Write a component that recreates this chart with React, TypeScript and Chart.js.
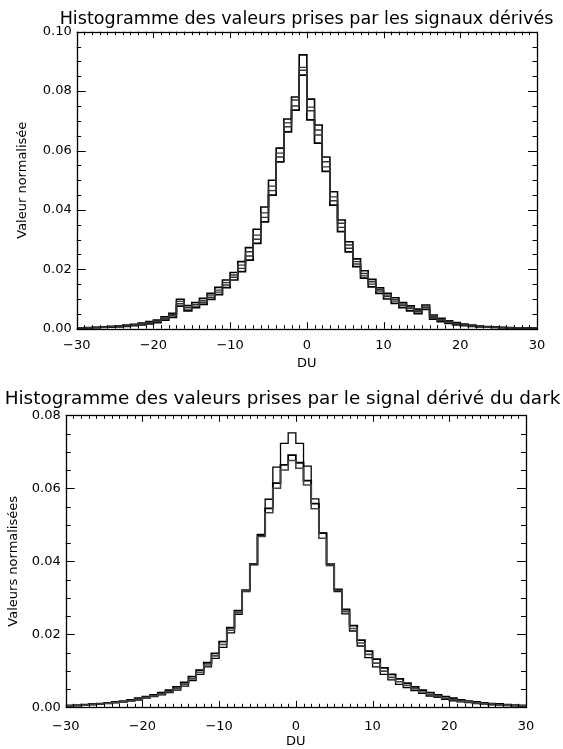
import React, { useEffect, useRef } from 'react';
import { Chart, registerables } from 'chart.js';

Chart.register(...registerables);

// Bin edges (DU), each bin is [edge, next edge)
const binEdges = [
  -30, -29, -28, -27, -26, -25, -24, -23, -22, -21,
  -20, -19, -18, -17, -16, -15, -14, -13, -12, -11,
  -10, -9, -8, -7, -6, -5, -4, -3, -2, -1,
  0, 1, 2, 3, 4, 5, 6, 7, 8, 9,
  10, 11, 12, 13, 14, 15, 16, 17, 18, 19,
  20, 21, 22, 23, 24, 25, 26, 27, 28, 29, 30,
];

const xTickLabels = [-30, -20, -10, 0, 10, 20, 30];
const topYTickLabels = [0, 0.02, 0.04, 0.06, 0.08, 0.1];
const bottomYTickLabels = [0, 0.02, 0.04, 0.06, 0.08];

// Top chart: histograms of the derived signals
const signal1 = [
  0.0003, 0.0004, 0.0005, 0.0006, 0.0008, 0.001, 0.0012, 0.0015, 0.0019, 0.0024,
  0.0029, 0.004, 0.0052, 0.0099, 0.0078, 0.0088, 0.0102, 0.0119, 0.0139, 0.0164,
  0.0189, 0.0226, 0.0273, 0.0335, 0.041, 0.05, 0.0608, 0.0706, 0.078, 0.0922,
  0.0773, 0.0686, 0.0578, 0.0461, 0.0366, 0.0293, 0.0235, 0.0195, 0.0166, 0.0138,
  0.0119, 0.0104, 0.0088, 0.0077, 0.0066, 0.008, 0.0046, 0.0035, 0.0027, 0.0021,
  0.0016, 0.0012, 0.0009, 0.0007, 0.0006, 0.0005, 0.0004, 0.0003, 0.0002, 0.0002,
];
const signal2 = [
  0.0002, 0.0003, 0.0004, 0.0005, 0.0007, 0.0009, 0.0011, 0.0013, 0.0017, 0.0021,
  0.0026, 0.0036, 0.0048, 0.0092, 0.0072, 0.0082, 0.0094, 0.0113, 0.013, 0.0155,
  0.0181, 0.0214, 0.0259, 0.0315, 0.039, 0.048, 0.0591, 0.0693, 0.077, 0.088,
  0.0746, 0.0669, 0.0562, 0.0444, 0.0355, 0.0282, 0.0226, 0.0186, 0.0158, 0.0133,
  0.0113, 0.0098, 0.0083, 0.0073, 0.0062, 0.0076, 0.0042, 0.0031, 0.0024, 0.0018,
  0.0014, 0.0011, 0.0008, 0.0006, 0.0005, 0.0004, 0.0003, 0.0003, 0.0002, 0.0002,
];
const signal3 = [
  0.0002, 0.0003, 0.0004, 0.0005, 0.0006, 0.0008, 0.001, 0.0012, 0.0015, 0.0019,
  0.0023, 0.0033, 0.0044, 0.0084, 0.0066, 0.0076, 0.0088, 0.0106, 0.0123, 0.0147,
  0.0173, 0.0203, 0.0245, 0.0301, 0.0375, 0.0465, 0.0578, 0.068, 0.075, 0.087,
  0.0734, 0.0652, 0.0545, 0.0431, 0.0341, 0.0271, 0.0218, 0.0178, 0.015, 0.0127,
  0.0108, 0.0093, 0.0078, 0.0068, 0.0057, 0.0071, 0.0037, 0.0028, 0.0021, 0.0016,
  0.0012, 0.0009, 0.0007, 0.0005, 0.0004, 0.0003, 0.0003, 0.0002, 0.0002, 0.0001,
];
const signal4 = [
  0.0001, 0.0002, 0.0003, 0.0004, 0.0005, 0.0006, 0.0008, 0.001, 0.0013, 0.0016,
  0.002, 0.0029, 0.0038, 0.0076, 0.006, 0.0071, 0.0082, 0.0099, 0.0115, 0.0138,
  0.0164, 0.0192, 0.0231, 0.0287, 0.036, 0.045, 0.0562, 0.0663, 0.0736, 0.0854,
  0.0703, 0.0625, 0.053, 0.0416, 0.0327, 0.0259, 0.0209, 0.017, 0.0141, 0.0119,
  0.01, 0.0085, 0.0071, 0.006, 0.0051, 0.0065, 0.0032, 0.0024, 0.0018, 0.0013,
  0.001, 0.0008, 0.0006, 0.0005, 0.0004, 0.0003, 0.0002, 0.0002, 0.0001, 0.0001,
];

// Bottom chart: histograms of the derived dark signal
const darkA = [
  0.0005, 0.0006, 0.0007, 0.0009, 0.001, 0.0012, 0.0015, 0.0017, 0.002, 0.0025,
  0.0029, 0.0034, 0.004, 0.0047, 0.0056, 0.0068, 0.0084, 0.0102, 0.0122, 0.0148,
  0.018, 0.0218, 0.0265, 0.0321, 0.0392, 0.0472, 0.0545, 0.0614, 0.0664, 0.0691,
  0.067, 0.0621, 0.0558, 0.0477, 0.0392, 0.0323, 0.0268, 0.0224, 0.0184, 0.0154,
  0.0132, 0.0108, 0.009, 0.0078, 0.0066, 0.0056, 0.0047, 0.004, 0.0034, 0.0029,
  0.0025, 0.002, 0.0017, 0.0015, 0.0012, 0.001, 0.0009, 0.0007, 0.0006, 0.0005,
];
const darkG = [
  0.0004, 0.0005, 0.0006, 0.0008, 0.0009, 0.0011, 0.0013, 0.0015, 0.0018, 0.0022,
  0.0027, 0.0031, 0.0037, 0.0043, 0.0051, 0.0063, 0.0078, 0.0096, 0.0116, 0.0141,
  0.0172, 0.0211, 0.026, 0.0319, 0.039, 0.0468, 0.0533, 0.06, 0.065, 0.0676,
  0.0655, 0.0609, 0.0544, 0.0463, 0.039, 0.032, 0.0262, 0.0216, 0.0176, 0.0145,
  0.0121, 0.0099, 0.0082, 0.007, 0.006, 0.0051, 0.0042, 0.0035, 0.003, 0.0025,
  0.0021, 0.0017, 0.0015, 0.0012, 0.001, 0.0009, 0.0007, 0.0006, 0.0005, 0.0004,
];
const darkT = [
  0.0003, 0.0004, 0.0006, 0.0007, 0.0008, 0.001, 0.0012, 0.0014, 0.0017, 0.002,
  0.0025, 0.0029, 0.0034, 0.004, 0.0047, 0.0058, 0.0073, 0.009, 0.0111, 0.0134,
  0.0164, 0.0204, 0.0255, 0.0317, 0.0392, 0.0474, 0.057, 0.0658, 0.0723, 0.0752,
  0.0723, 0.0661, 0.0571, 0.0477, 0.0388, 0.0317, 0.0256, 0.0209, 0.0168, 0.0136,
  0.0111, 0.009, 0.0075, 0.0063, 0.0054, 0.0046, 0.0038, 0.0031, 0.0027, 0.0022,
  0.0018, 0.0015, 0.0013, 0.001, 0.0009, 0.0007, 0.0006, 0.0005, 0.0004, 0.0003,
];

const FONT = "'DejaVu Sans', 'Liberation Sans', sans-serif";

function toSteps(vals: number[]) {
  return binEdges.map((e, i) => ({ x: e, y: vals[Math.min(i, vals.length - 1)] }));
}

const fmtX = (v: number) => (v < 0 ? '\u2212' + Math.abs(v) : String(v));

// Inward tick marks on all four sides + frame, IDL style
const boxTicks = {
  id: 'boxTicks',
  afterDatasetsDraw(chart: any, _args: any, opts: any) {
    const { ctx, chartArea: a, scales } = chart;
    const x = scales.x;
    const y = scales.y;
    ctx.save();
    ctx.strokeStyle = '#000';
    ctx.lineWidth = 1;
    ctx.beginPath();
    const xMin = x.min, xMax = x.max;
    const nx = Math.round((xMax - xMin) / opts.xMinor);
    for (let i = 0; i <= nx; i++) {
      const v = xMin + i * opts.xMinor;
      const major = i % opts.xPer === 0;
      const len = major ? opts.xMajorLen : opts.xMinorLen;
      const px = Math.round(x.getPixelForValue(v)) + 0.5;
      ctx.moveTo(px, a.bottom);
      ctx.lineTo(px, a.bottom - len);
      ctx.moveTo(px, a.top);
      ctx.lineTo(px, a.top + len);
    }
    const yMin = y.min, yMax = y.max;
    const ny = Math.round((yMax - yMin) / opts.yMinor);
    for (let i = 0; i <= ny; i++) {
      const v = yMin + i * opts.yMinor;
      const major = i % opts.yPer === 0;
      const len = major ? opts.yMajorLen : opts.yMinorLen;
      const py = Math.round(y.getPixelForValue(v)) + 0.5;
      ctx.moveTo(a.left, py);
      ctx.lineTo(a.left + len, py);
      ctx.moveTo(a.right, py);
      ctx.lineTo(a.right - len, py);
    }
    ctx.stroke();
    ctx.lineWidth = 1.3;
    ctx.strokeRect(Math.round(a.left) + 0.5, Math.round(a.top) + 0.5,
      Math.round(a.right - a.left), Math.round(a.bottom - a.top));
    ctx.restore();
  },
};

const idlTitle = {
  id: 'idlTitle',
  afterDraw(chart: any, _args: any, opts: any) {
    const { ctx } = chart;
    ctx.save();
    ctx.fillStyle = '#000';
    ctx.font = `${opts.size}px ${FONT}`;
    ctx.textAlign = 'center';
    ctx.textBaseline = 'alphabetic';
    ctx.fillText(opts.text, opts.cx, opts.baseline);
    ctx.restore();
  },
};

type Cfg = {
  width: number;
  height: number;
  datasets: any[];
  yMax: number;
  yTicks: number[];
  yTitle: string;
  title: string;
  titleSize: number;
  titleCx: number;
  titleBaseline: number;
  padTop: number;
  padRight: number;
  yAxisWidth: number;
  xAxisHeight: number;
  yTitlePad: number;
  xTitlePad: number;
  xTickPad: number;
  yTickLen: [number, number];
  xTickLen: [number, number];
};

function HistChart({ cfg }: { cfg: Cfg }) {
  const ref = useRef<HTMLCanvasElement | null>(null);
  useEffect(() => {
    if (!ref.current) return;
    const chart = new Chart(ref.current, {
      type: 'line',
      data: { datasets: cfg.datasets },
      plugins: [boxTicks, idlTitle],
      options: {
        animation: false,
        responsive: false,
        maintainAspectRatio: false,
        devicePixelRatio: 1,
        layout: { padding: { top: cfg.padTop, right: cfg.padRight, left: 0, bottom: 0 } },
        elements: { point: { radius: 0 }, line: { tension: 0 } },
        scales: {
          x: {
            type: 'linear',
            min: -30,
            max: 30,
            afterBuildTicks: (s: any) => {
              s.ticks = xTickLabels.map((v) => ({ value: v }));
            },
            afterFit: (s: any) => {
              s.height = cfg.xAxisHeight;
            },
            ticks: {
              callback: (v: any) => fmtX(Number(v)),
              color: '#000',
              font: { family: FONT, size: 13 },
              padding: cfg.xTickPad,
              maxRotation: 0,
              autoSkip: false,
            },
            grid: { display: false, drawTicks: false },
            border: { display: false },
            title: {
              display: true,
              text: 'DU',
              color: '#000',
              font: { family: FONT, size: 13 },
              padding: { top: 0, bottom: cfg.xTitlePad },
            },
          },
          y: {
            type: 'linear',
            min: 0,
            max: cfg.yMax,
            afterBuildTicks: (s: any) => {
              s.ticks = cfg.yTicks.map((v) => ({ value: v }));
            },
            afterFit: (s: any) => {
              s.width = cfg.yAxisWidth;
            },
            ticks: {
              callback: (v: any) => Number(v).toFixed(2),
              color: '#000',
              font: { family: FONT, size: 13 },
              padding: 5,
              autoSkip: false,
            },
            grid: { display: false, drawTicks: false },
            border: { display: false },
            title: {
              display: true,
              text: cfg.yTitle,
              color: '#000',
              font: { family: FONT, size: 13 },
              padding: { top: cfg.yTitlePad, bottom: 0 },
            },
          },
        },
        plugins: {
          legend: { display: false },
          tooltip: { enabled: false },
          title: { display: false },
          boxTicks: {
            xMinor: 1,
            xPer: 10,
            yMinor: 0.005,
            yPer: 4,
            yMajorLen: cfg.yTickLen[0],
            yMinorLen: cfg.yTickLen[1],
            xMajorLen: cfg.xTickLen[0],
            xMinorLen: cfg.xTickLen[1],
          },
          idlTitle: {
            text: cfg.title,
            size: cfg.titleSize,
            cx: cfg.titleCx,
            baseline: cfg.titleBaseline,
          },
        } as any,
      },
    } as any);
    return () => chart.destroy();
  }, [cfg]);
  return (
    <canvas
      ref={ref}
      width={cfg.width}
      height={cfg.height}
      style={{ display: 'block', width: cfg.width, height: cfg.height }}
    />
  );
}

const line = (vals: number[], color: string, width: number) => ({
  data: toSteps(vals),
  borderColor: color,
  borderWidth: width,
  stepped: true,
  fill: false,
  pointRadius: 0,
});

const topCfg: Cfg = {
  width: 563,
  height: 375,
  datasets: [
    line(signal2, '#333', 1.4),
    line(signal3, '#333', 1.4),
    line(signal1, '#000', 1.6),
    line(signal4, '#000', 1.7),
  ],
  yMax: 0.1,
  yTicks: topYTickLabels,
  yTitle: 'Valeur normalisée',
  title: 'Histogramme des valeurs prises par les signaux dérivés',
  titleSize: 17.6,
  titleCx: 306.5,
  titleBaseline: 23.5,
  padTop: 31.7,
  padRight: 26,
  yAxisWidth: 76.7,
  xAxisHeight: 46.3,
  yTitlePad: 15,
  xTitlePad: 4,
  xTickPad: 9,
  yTickLen: [9, 4.5],
  xTickLen: [6.5, 3.5],
};

const bottomCfg: Cfg = {
  width: 563,
  height: 374,
  datasets: [
    line(darkG, '#444', 1.6),
    line(darkT, '#000', 1.3),
    line(darkA, '#000', 1.8),
  ],
  yMax: 0.08,
  yTicks: bottomYTickLabels,
  yTitle: 'Valeurs normalisées',
  title: 'Histogramme des valeurs prises par le signal dérivé du dark',
  titleSize: 18.4,
  titleCx: 282.5,
  titleBaseline: 29,
  padTop: 40.3,
  padRight: 37,
  yAxisWidth: 65.7,
  xAxisHeight: 41.7,
  yTitlePad: 5.5,
  xTitlePad: 0,
  xTickPad: 12,
  yTickLen: [9, 5],
  xTickLen: [6.5, 3.5],
};

export default function App() {
  return (
    <div
      style={{
        position: 'absolute',
        left: 0,
        top: 0,
        width: 563,
        height: 749,
        background: '#fff',
        overflow: 'hidden',
      }}
    >
      <HistChart cfg={topCfg} />
      <HistChart cfg={bottomCfg} />
    </div>
  );
}
